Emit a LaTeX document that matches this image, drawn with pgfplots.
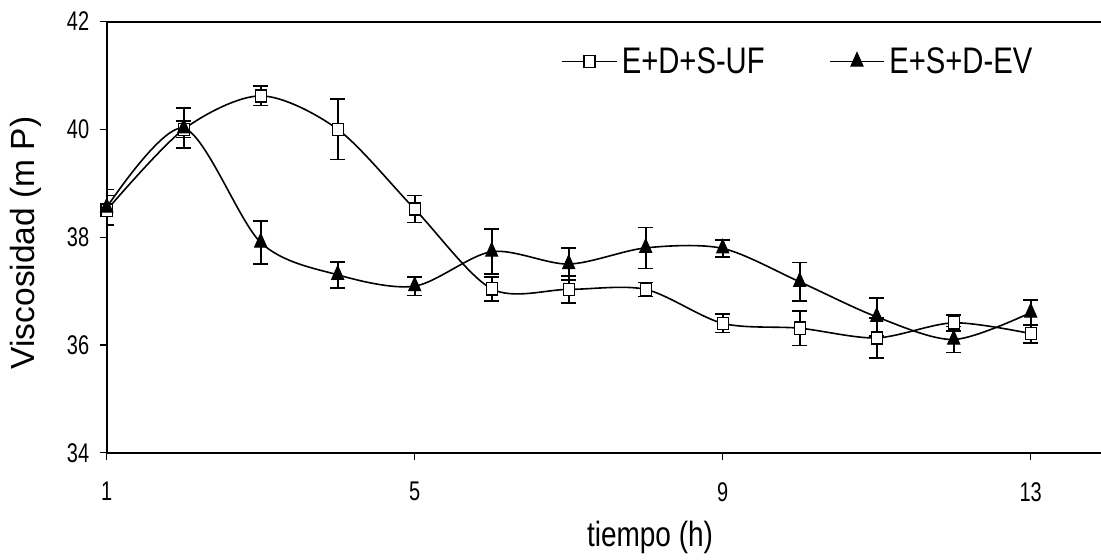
\documentclass[border=0pt]{standalone}
\usepackage{fontspec}
\setmainfont{Liberation Sans}
\newfontfamily\fa[FakeStretch=0.74]{Liberation Sans}
\newfontfamily\fb[FakeStretch=0.79]{Liberation Sans}
\newfontfamily\fc[FakeStretch=0.80]{Liberation Sans}
\usepackage{pgfplots}
\pgfplotsset{compat=1.18}
\begin{document}
\begin{tikzpicture}
\begin{axis}[
  scale only axis, width=997.3bp, height=431.2bp,
  xmin=1, xmax=13.952, ymin=34, ymax=42,
  xtick={1,5,9,13}, ytick={34,36,38,40,42},
  xtick pos=left, ytick pos=left,
  tick align=outside, major tick length=7bp,
  axis line style={line width=2bp},
  every tick/.style={black, line width=1.2bp},
  /pgf/number format/assume math mode=true,
  tick label style={font=\fa\fontsize{27bp}{30bp}\selectfont},
  xticklabel style={yshift=-19bp},
  yticklabel style={xshift=-7bp},
  xlabel={tiempo (h)},
  ylabel={Viscosidad (m P)},
  xlabel style={at={(axis description cs:0.5448,-0.1955)}, anchor=center, font=\fc\fontsize{35bp}{40bp}\selectfont},
  ylabel style={at={(axis description cs:-0.0809,0.4863)}, anchor=center, font=\fontsize{33.5bp}{38bp}\selectfont},
  legend columns=2,
  legend style={at={(axis description cs:0.456,0.907)}, anchor=west, draw=none, fill=none,
    font=\fb\fontsize{37bp}{40bp}\selectfont, inner sep=0pt,
    nodes={inner xsep=4.5bp, inner ysep=0pt},
    /tikz/every even column/.append style={column sep=60bp}},
  legend image code/.code={\draw[mark repeat=2,mark phase=2,#1] plot coordinates {(0bp,0bp) (27bp,0bp) (54bp,0bp)};},
]
\addplot[black, line width=1.6bp, smooth, mark=square*,
  mark options={fill=white, line width=1.4bp, mark size=5.5bp, yscale=1.1},
  error bars/.cd, y dir=both, y explicit, error mark=|,
  error mark options={black, mark size=7.5bp, line width=1.6bp},
  error bar style={line width=1.6bp, black}]
coordinates {
(1,38.50) +- (0,0.27)
(2,40.00) +- (0,0.15)
(3,40.62) +- (0,0.18)
(4,40.00) +- (0,0.56)
(5,38.52) +- (0,0.25)
(6,37.04) +- (0,0.22)
(7,37.03) +- (0,0.25)
(8,37.03) +- (0,0.13)
(9,36.40) +- (0,0.17)
(10,36.31) +- (0,0.32)
(11,36.13) +- (0,0.37)
(12,36.41) +- (0,0.15)
(13,36.21) +- (0,0.17)
};
\addlegendentry{E+D+S-UF}
\addplot[black, line width=1.6bp, smooth, mark=triangle*,
  mark options={fill=black, line width=1pt, mark size=7bp, yscale=1.3},
  error bars/.cd, y dir=both, y explicit, error mark=|,
  error mark options={black, mark size=7.5bp, line width=1.6bp},
  error bar style={line width=1.6bp, black}]
coordinates {
(1,38.55) +- (0,0.33)
(2,40.02) +- (0,0.37)
(3,37.90) +- (0,0.40)
(4,37.30) +- (0,0.24)
(5,37.09) +- (0,0.17)
(6,37.73) +- (0,0.42)
(7,37.50) +- (0,0.30)
(8,37.80) +- (0,0.38)
(9,37.79) +- (0,0.16)
(10,37.17) +- (0,0.36)
(11,36.52) +- (0,0.35)
(12,36.10) +- (0,0.24)
(13,36.60) +- (0,0.23)
};
\addlegendentry{E+S+D-EV}
\coordinate (bl) at (rel axis cs:0,0);
\coordinate (tr) at (rel axis cs:1,1);
\end{axis}
\pgfresetboundingbox
\path[use as bounding box] ([shift={(-106.7bp,-106.3bp)}]bl) rectangle ([shift={(-3bp,21.5bp)}]tr);
\end{tikzpicture}
\end{document}
